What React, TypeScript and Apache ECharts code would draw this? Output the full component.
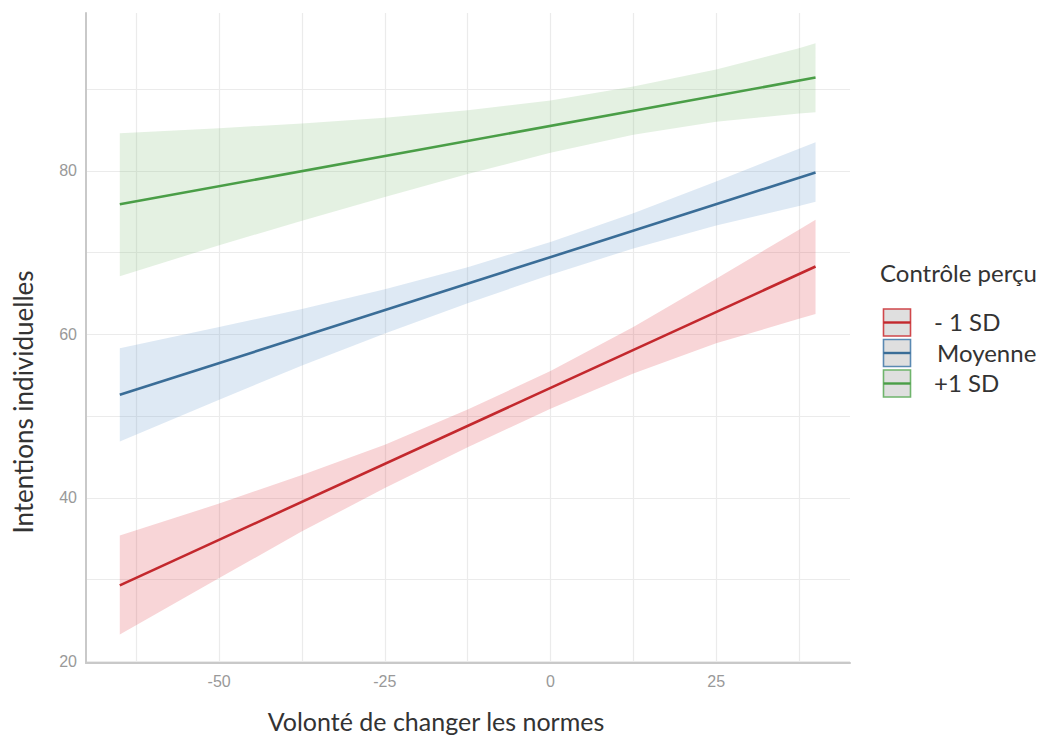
import React, { useEffect, useRef } from "react";
import * as echarts from "echarts";

// ---- data ----
const lineX = [-65, 40];
const redLine = [29.3, 68.3];
const blueLine = [52.6, 79.8];
const greenLine = [75.9, 91.4];

const bandX = [-65, -50, -37.5, -25, -12.5, 0, 12.5, 25, 37.5, 40];
const redUpper = [35.4, 39.3, 42.8, 46.5, 50.8, 55.5, 60.9, 66.8, 72.8, 74.0];
const redLower = [23.3, 30.2, 35.9, 41.2, 46.2, 50.9, 55.2, 58.9, 61.9, 62.5];
const blueUpper = [58.3, 60.9, 63.1, 65.5, 68.2, 71.3, 74.8, 78.7, 82.7, 83.5];
const blueLower = [46.9, 52.0, 56.2, 60.1, 63.8, 67.3, 70.5, 73.3, 75.7, 76.2];
const greenUpper = [84.6, 85.2, 85.8, 86.5, 87.4, 88.6, 90.3, 92.4, 95.0, 95.6];
const greenLower = [67.1, 70.9, 73.9, 76.8, 79.6, 82.2, 84.4, 86.0, 87.0, 87.15];

const xTickLabels = [-50, -25, 0, 25];
const yTickLabels = [20, 40, 60, 80];
const xGrid = [-62.5, -50, -37.5, -25, -12.5, 0, 12.5, 25, 37.5];
const yGrid = [20, 30, 40, 50, 60, 70, 80, 90];

const groups = ["- 1 SD", "Moyenne", "+1 SD"];
const lineColors = ["#c3282d", "#3a6d97", "#4a9e47"];
const bandColors = ["rgba(220,45,55,0.2)", "rgba(90,145,200,0.2)", "rgba(120,185,110,0.2)"];
const legendBorders = ["#d0474b", "#5a89b2", "#6fb46c"];

const TITLE_FONT = "Lato, 'Open Sans', sans-serif";
const TICK_FONT = "'Liberation Sans', Arial, sans-serif";

function bandSeries(name: string, upper: number[], lower: number[], fill: string) {
  return {
    type: "custom",
    name,
    coordinateSystem: "cartesian2d",
    silent: true,
    z: 1,
    data: bandX.map((x, i) => [x, lower[i], upper[i]]),
    encode: { x: 0, y: [1, 2] },
    renderItem: (params: any, api: any) => {
      if (params.dataIndex !== 0) return null;
      const pts: number[][] = [];
      for (let i = 0; i < bandX.length; i++) pts.push(api.coord([bandX[i], upper[i]]));
      for (let i = bandX.length - 1; i >= 0; i--) pts.push(api.coord([bandX[i], lower[i]]));
      return { type: "polygon", shape: { points: pts }, style: { fill, stroke: "none" } };
    },
  };
}

function lineSeries(name: string, vals: number[], color: string) {
  return {
    type: "line",
    name,
    z: 3,
    showSymbol: false,
    symbol: "none",
    silent: true,
    data: lineX.map((x, i) => [x, vals[i]]),
    lineStyle: { color, width: 2.6 },
  };
}

function legendGraphics() {
  const els: any[] = [];
  els.push({
    type: "text",
    x: 880,
    y: 272,
    style: {
      text: "Contrôle perçu",
      font: `24px ${TITLE_FONT}`,
      fill: "#333333",
      textAlign: "left",
      textVerticalAlign: "middle",
      align: "left",
      verticalAlign: "middle",
    },
  });
  const boxY = [309, 339.5, 370];
  const labelX = [934, 937, 934];
  groups.forEach((g, i) => {
    els.push({
      type: "rect",
      shape: { x: 883.5, y: boxY[i], width: 27, height: 27 },
      style: { fill: "#dfdfdf", stroke: legendBorders[i], lineWidth: 1.6 },
    });
    els.push({
      type: "line",
      shape: { x1: 883.5, y1: boxY[i] + 13.5, x2: 910.5, y2: boxY[i] + 13.5 },
      style: { stroke: lineColors[i], lineWidth: 2.4 },
    });
    els.push({
      type: "text",
      x: labelX[i],
      y: boxY[i] + 12.5,
      style: {
        text: g,
        font: `24px ${TITLE_FONT}`,
        fill: "#333333",
        textAlign: "left",
        textVerticalAlign: "middle",
        align: "left",
        verticalAlign: "middle",
      },
    });
  });
  return els;
}

export default function App() {
  const ref = useRef<HTMLDivElement>(null);
  useEffect(() => {
    if (!ref.current) return;
    const chart = echarts.init(ref.current, undefined, { renderer: "svg" });
    const option: any = {
      animation: false,
      backgroundColor: "#ffffff",
      grid: { left: 86, right: 199, top: 13, bottom: 74, containLabel: false },
      xAxis: {
        type: "value",
        min: -70.1,
        max: 45.2,
        z: 4,
        axisLine: { show: true, onZero: false, lineStyle: { color: "#c9c9c9", width: 2 } },
        axisTick: { show: false },
        splitLine: { show: false },
        axisLabel: {
          customValues: xTickLabels,
          color: "#999999",
          fontSize: 16,
          fontFamily: TICK_FONT,
          margin: 10,
        },
      },
      yAxis: {
        type: "value",
        min: 19.8,
        max: 99.3,
        z: 4,
        axisLine: { show: true, onZero: false, lineStyle: { color: "#c9c9c9", width: 2 } },
        axisTick: { show: false },
        splitLine: { show: false },
        axisLabel: {
          customValues: yTickLabels,
          color: "#999999",
          fontSize: 16,
          fontFamily: TICK_FONT,
          margin: 9,
        },
      },
      graphic: [
        {
          type: "text",
          x: 436,
          y: 721,
          style: {
            text: "Volonté de changer les normes",
            font: `25px ${TITLE_FONT}`,
            fill: "#333333",
            textAlign: "center",
            textVerticalAlign: "middle",
            align: "center",
            verticalAlign: "middle",
          },
        },
        {
          type: "text",
          x: 23,
          y: 402,
          rotation: Math.PI / 2,
          style: {
            text: "Intentions individuelles",
            font: `26px ${TITLE_FONT}`,
            fill: "#333333",
            textAlign: "center",
            textVerticalAlign: "middle",
            align: "center",
            verticalAlign: "middle",
          },
        },
        ...legendGraphics(),
      ],
      series: [
        {
          type: "line",
          name: "grid",
          z: 0,
          silent: true,
          showSymbol: false,
          symbol: "none",
          data: [[-70.1, 19.8]],
          lineStyle: { opacity: 0 },
          markLine: {
            silent: true,
            z: 0,
            symbol: ["none", "none"],
            label: { show: false },
            animation: false,
            lineStyle: { color: "#ebebeb", width: 1.2, type: "solid" },
            data: [
              ...xGrid.map((v) => ({ xAxis: v })),
              ...yGrid.map((v) => ({ yAxis: v })),
            ],
          },
        },
        bandSeries("band " + groups[0], redUpper, redLower, bandColors[0]),
        bandSeries("band " + groups[1], blueUpper, blueLower, bandColors[1]),
        bandSeries("band " + groups[2], greenUpper, greenLower, bandColors[2]),
        lineSeries(groups[0], redLine, lineColors[0]),
        lineSeries(groups[1], blueLine, lineColors[1]),
        lineSeries(groups[2], greenLine, lineColors[2]),
      ],
    };
    chart.setOption(option);
    return () => chart.dispose();
  }, []);
  return (
    <div
      ref={ref}
      style={{ position: "fixed", left: 0, top: 0, width: 1049, height: 737, background: "#fff" }}
    />
  );
}
